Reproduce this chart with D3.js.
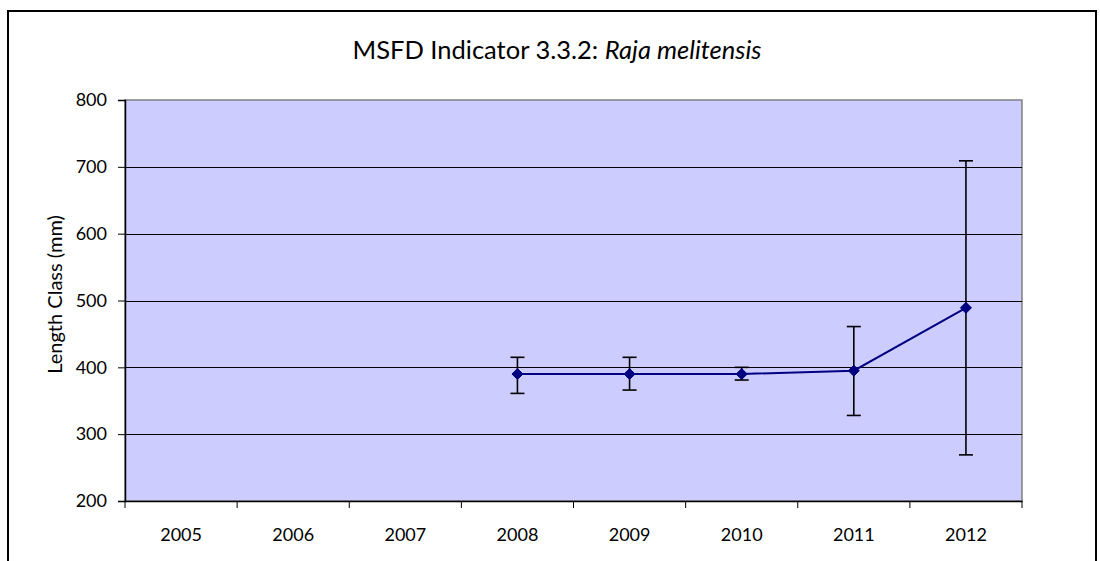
<!DOCTYPE html>
<html>
<head>
<meta charset="utf-8">
<script src="https://cdn.jsdelivr.net/npm/d3@7"></script>
<style>
  html, body { margin: 0; padding: 0; background: #fff; }
  svg { display: block; }
  text { font-family: Lato, "Open Sans", sans-serif; fill: #000; }
</style>
</head>
<body>
<svg id="chart" width="1100" height="561"></svg>
<script>
const years = ["2005", "2006", "2007", "2008", "2009", "2010", "2011", "2012"];
const meanLength = [null, null, null, 390, 390, 390, 395, 489];
const upperLength = [null, null, null, 415, 415, 400, 461, 709];
const lowerLength = [null, null, null, 361, 366, 381, 328, 269];
const yTicks = [200, 300, 400, 500, 600, 700, 800];
const titleMain = "MSFD Indicator 3.3.2: ";
const titleItalic = "Raja melitensis";
const yLabel = "Length Class (mm)";

const svg = d3.select("#chart");
const plot = { left: 125, right: 1022, top: 100, bottom: 501 };

// outer chart border
svg.append("rect")
  .attr("x", 8).attr("y", 11).attr("width", 1088).attr("height", 600)
  .attr("fill", "#fff").attr("stroke", "#000").attr("stroke-width", 2);

const x = d3.scaleBand().domain(years).range([plot.left, plot.right]).padding(0);
const y = d3.scaleLinear().domain([200, 800]).range([plot.bottom, plot.top]);

// plot area
svg.append("rect")
  .attr("x", plot.left).attr("y", plot.top)
  .attr("width", plot.right - plot.left).attr("height", plot.bottom - plot.top)
  .attr("fill", "#CCCCFF").attr("stroke", "#808080").attr("stroke-width", 1.5);

// gridlines
svg.append("g").selectAll("line")
  .data(yTicks.filter(t => t > 200 && t < 800))
  .join("line")
  .attr("x1", plot.left).attr("x2", plot.right)
  .attr("y1", d => Math.round(y(d)) + 0.5).attr("y2", d => Math.round(y(d)) + 0.5)
  .attr("stroke", "#000").attr("stroke-width", 1);

// y axis
const yAxis = svg.append("g")
  .attr("transform", `translate(${plot.left},0)`)
  .call(d3.axisLeft(y).tickValues(yTicks).tickSize(7).tickPadding(11).tickFormat(d3.format("d")));
yAxis.select(".domain").attr("stroke", "#000").attr("stroke-width", 1.5);
yAxis.selectAll(".tick line").attr("stroke", "#000");
yAxis.selectAll("text").style("font-size", "18px").style("font-family", "Lato");

// x axis
const xAxis = svg.append("g")
  .attr("transform", `translate(0,${plot.bottom})`)
  .call(d3.axisBottom(x).tickSize(0).tickPadding(27));
xAxis.select(".domain").attr("stroke", "#000").attr("stroke-width", 1.5);
xAxis.selectAll("text").style("font-size", "18px").style("font-family", "Lato");
// tick marks at category boundaries
const bounds = years.map(yr => x(yr)).concat([x(years[years.length - 1]) + x.bandwidth()]);
xAxis.selectAll(".bound").data(bounds).join("line")
  .attr("class", "bound")
  .attr("x1", d => d).attr("x2", d => d)
  .attr("y1", 0).attr("y2", 7)
  .attr("stroke", "#000").attr("stroke-width", 1);

// data
const pts = years.map((yr, i) => ({ yr, m: meanLength[i], hi: upperLength[i], lo: lowerLength[i] }))
  .filter(d => d.m !== null);
const cx = d => x(d.yr) + x.bandwidth() / 2;

// error bars
const eb = svg.append("g").attr("stroke", "#000").attr("stroke-width", 1.6);
eb.selectAll(".v").data(pts).join("line")
  .attr("x1", cx).attr("x2", cx).attr("y1", d => y(d.hi)).attr("y2", d => y(d.lo));
eb.selectAll(".t").data(pts).join("line")
  .attr("x1", d => cx(d) - 7).attr("x2", d => cx(d) + 7).attr("y1", d => y(d.hi)).attr("y2", d => y(d.hi));
eb.selectAll(".b").data(pts).join("line")
  .attr("x1", d => cx(d) - 7).attr("x2", d => cx(d) + 7).attr("y1", d => y(d.lo)).attr("y2", d => y(d.lo));

// line
svg.append("path")
  .datum(pts)
  .attr("d", d3.line().x(cx).y(d => y(d.m)))
  .attr("fill", "none").attr("stroke", "#000080").attr("stroke-width", 2);

// markers
svg.append("g").selectAll("path").data(pts).join("path")
  .attr("transform", d => `translate(${cx(d)},${y(d.m)})`)
  .attr("d", "M0,-5.5L5.5,0L0,5.5L-5.5,0Z")
  .attr("fill", "#000080").attr("stroke", "#000080").attr("stroke-width", 1);

// title
const title = svg.append("text")
  .attr("x", 557).attr("y", 59).attr("text-anchor", "middle")
  .style("font-size", "25.5px");
title.append("tspan").text(titleMain);
title.append("tspan").style("font-style", "italic").text(titleItalic);

// y label
svg.append("text")
  .attr("transform", `translate(62,${(212 + 377) / 2}) rotate(-90)`)
  .attr("text-anchor", "middle")
  .style("font-size", "20px")
  .text(yLabel);
</script>
</body>
</html>
